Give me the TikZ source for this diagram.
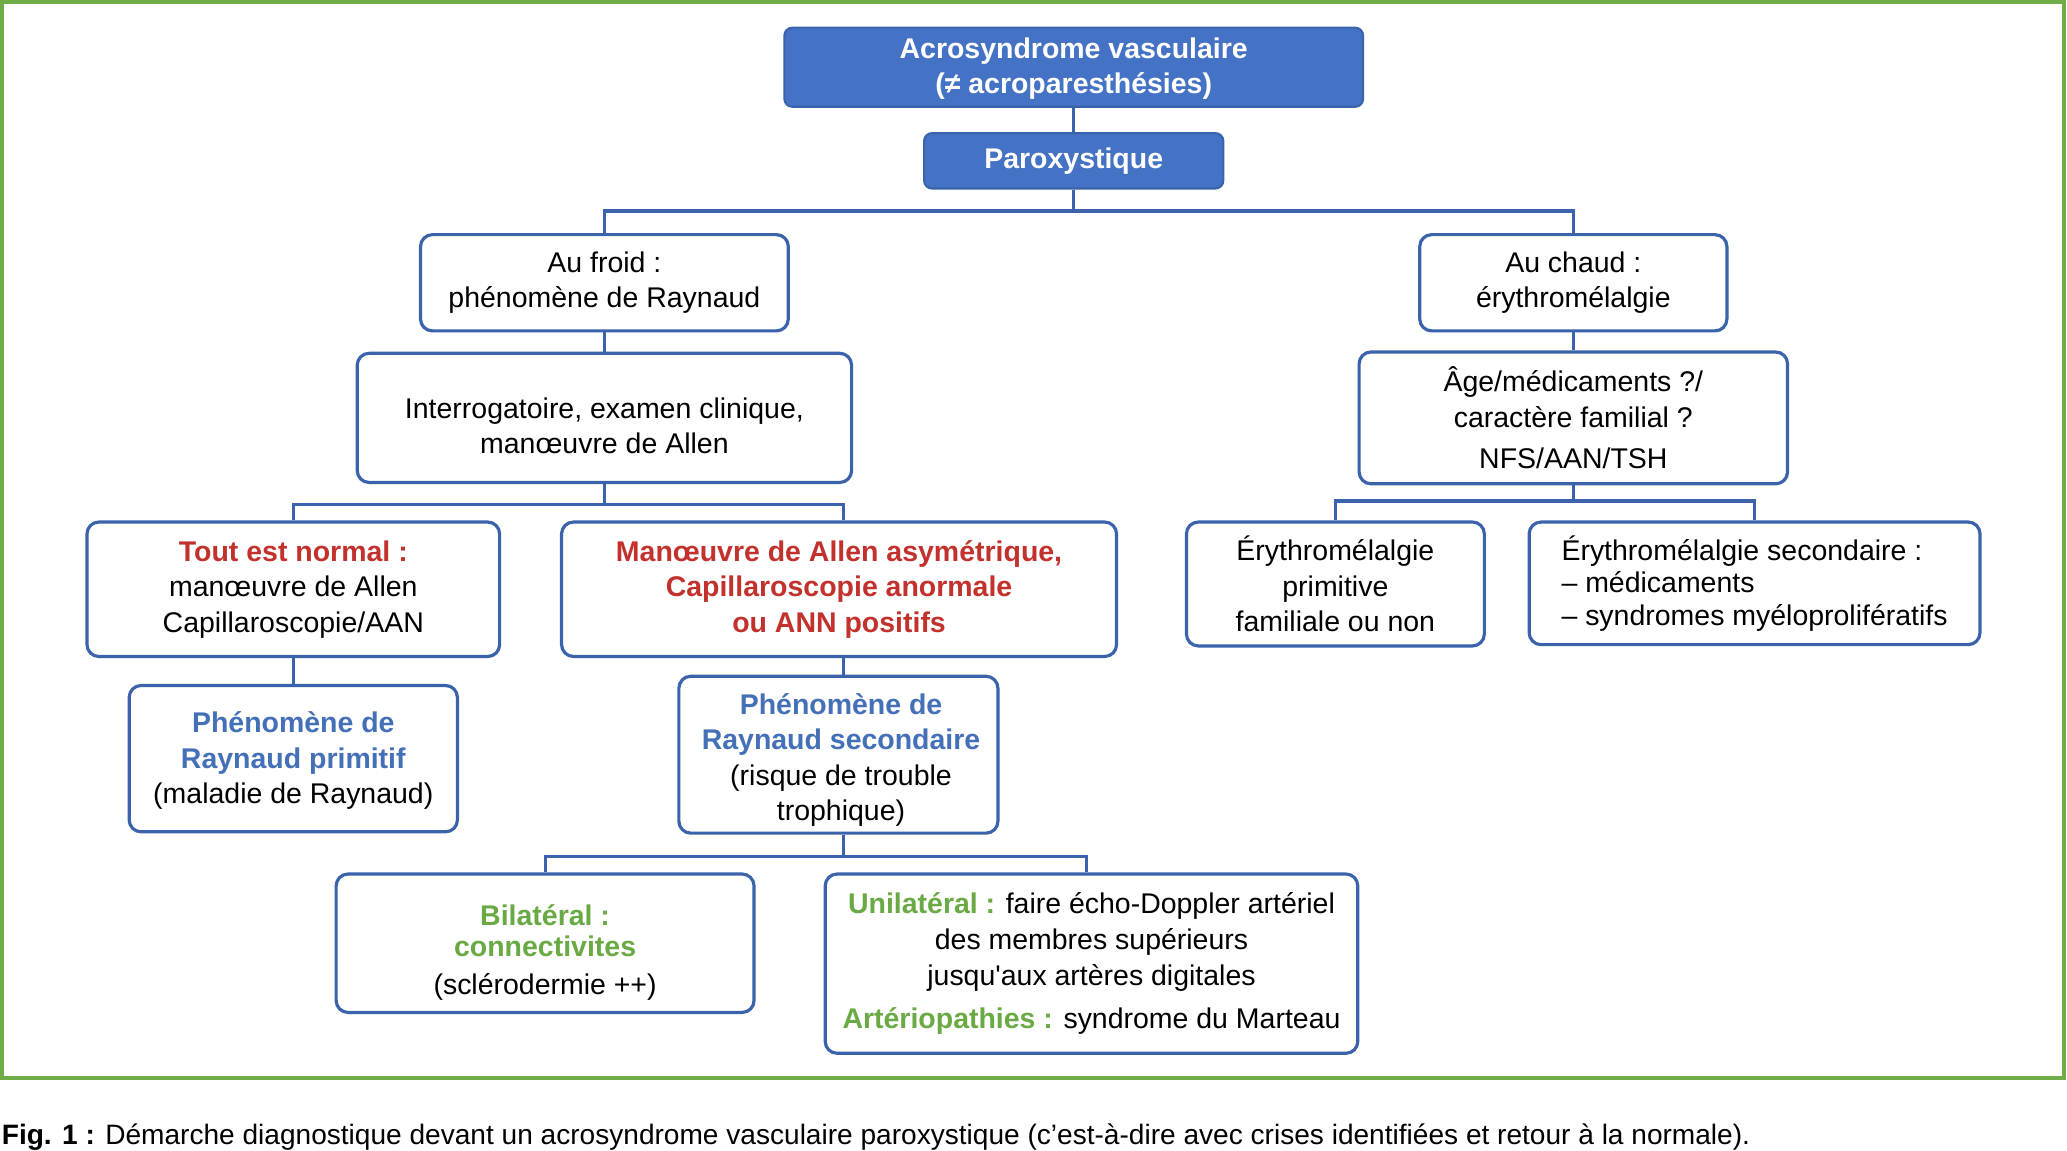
\documentclass[tikz,border=0pt]{standalone}
\usepackage{fontspec}
\setmainfont{Liberation Sans}
\newfontfamily\plainsans{Liberation Sans}
\definecolor{frameG}{HTML}{70AD47}
\definecolor{boxB}{HTML}{4472C4}
\definecolor{lineB}{HTML}{3A63AC}
\definecolor{txtR}{HTML}{C3312D}
\definecolor{txtB}{HTML}{4470B8}
\definecolor{txtG}{HTML}{6AAA45}
\newcommand{\bodyfont}{\fontsize{10.8}{13.5}\selectfont}
\begin{document}
\begin{tikzpicture}[x=0.5pt,y=-0.5pt,
  box/.style={draw=lineB, line width=1.2pt, rounded corners=4.5pt, fill=white,
    align=center, inner sep=0pt, font=\bodyfont, text=black},
  txt/.style={align=center, inner sep=0pt, font=\bodyfont, text=black},
  headbox/.style={draw=lineB, line width=0.8pt, rounded corners=3pt, fill=boxB,
    align=center, inner sep=0pt, font=\bodyfont\bfseries, text=white},
  conn/.style={draw=lineB, line width=1.2pt},
]
\useasboundingbox (0,0) rectangle (1568,873);
\draw[frameG, line width=1.5pt] (1.5,1.5) rectangle (1565.5,818);

% nodes
\node[headbox, minimum width=219.5pt, minimum height=30pt] (top) at (814.5,51)
  {\rule{0pt}{9pt}Acrosyndrome vasculaire\\(≠ acroparesthésies)};
\node[headbox, minimum width=113.5pt, minimum height=21pt] (parox) at (814.5,122)
  {Paroxystique};
\node[box, minimum width=139.5pt, minimum height=36.5pt] (froid) at (458.5,214.5)
  {Au froid :\\phénomène de Raynaud};
\node[box, minimum width=116.5pt, minimum height=36.5pt] (chaud) at (1193.5,214.5)
  {Au chaud :\\érythromélalgie};
\node[box, minimum width=187.5pt, minimum height=49pt] (interrog) at (458.5,317) {};
\node[txt] (interrogT) at (458.5,323)
  {Interrogatoire, examen clinique,\\manœuvre de Allen};
\node[box, minimum width=162.5pt, minimum height=50pt] (age) at (1193.5,317)
  {Âge/médicaments ?/\\caractère familial ?\\[2pt]NFS/AAN/TSH};
\node[box, minimum width=156.5pt, minimum height=51pt] (tout) at (222.5,447)
  {\textcolor{txtR}{\bfseries Tout est normal :}\\manœuvre de Allen\\Capillaroscopie/AAN};
\node[box, minimum width=210.5pt, minimum height=51pt, text=txtR, font=\bodyfont\bfseries] (allen) at (636.5,447)
  {Manœuvre de Allen asymétrique,\\Capillaroscopie anormale\\ou ANN positifs};
\node[box, minimum width=113pt, minimum height=47pt] (eprim) at (1013,443)
  {Érythromélalgie\\primitive\\familiale ou non};
\node[box, minimum width=171pt, minimum height=46.5pt, align=left,
  font=\fontsize{10.8}{12.3}\selectfont] (esec) at (1331,442.5)
  {Érythromélalgie secondaire :\\– médicaments\\– syndromes myéloprolifératifs};
\node[box, minimum width=124.5pt, minimum height=55.5pt] (rprim) at (222.5,575.5) {};
\node[txt] (rprimT) at (222.5,577)
  {\textcolor{txtB}{\bfseries Phénomène de}\\\textcolor{txtB}{\bfseries Raynaud primitif}\\(maladie de Raynaud)};
\node[box, minimum width=121pt, minimum height=59.5pt] (rsec) at (636,572.5) {};
\node[txt] (rsecT) at (638,576.5)
  {\textcolor{txtB}{\bfseries Phénomène de}\\\textcolor{txtB}{\bfseries Raynaud secondaire}\\(risque de trouble\\trophique)};
\node[box, minimum width=158.5pt, minimum height=52.5pt] (bilat) at (413.5,715.5) {};
\node[txt] (bilatT) at (413.5,722.5)
  {\textcolor{txtG}{\bfseries Bilatéral :}\\[-1.5pt]\textcolor{txtG}{\bfseries connectivites}\\[1pt](sclérodermie ++)};
\node[box, minimum width=202pt, minimum height=68pt] (unilat) at (828,731)
  {\textcolor{txtG}{\bfseries Unilatéral :} faire écho-Doppler artériel\\des membres supérieurs\\jusqu{\plainsans'}aux artères digitales\\[3pt]\textcolor{txtG}{\bfseries Artériopathies :} syndrome du Marteau};

\node[anchor=base west, inner sep=0pt, font=\fontsize{10.65}{13}\selectfont] (cap) at (1,868)
  {\textbf{Fig. 1 :} Démarche diagnostique devant un acrosyndrome vasculaire paroxystique (c’est-à-dire avec crises identifiées et retour à la normale).};

% junctions
\coordinate (j1) at (814.5,160);
\coordinate (j2) at (458.5,383);
\coordinate (j3) at (1193.5,380);
\coordinate (j4) at (640,650);
\coordinate (kA) at (640,0);
\coordinate (kU) at (824.5,0);

% connectors
\draw[conn] (top.south) -- (parox.north);
\draw[conn] (parox.south) -- (j1) -| (froid.north);
\draw[conn] (j1) -| (chaud.north);
\draw[conn] (froid.south) -- (interrog.north);
\draw[conn] (chaud.south) -- (age.north);
\draw[conn] (interrog.south) -- (j2) -| (tout.north);
\draw[conn] (j2) -| (allen.north -| kA);
\draw[conn] (age.south) -- (j3) -| (eprim.north);
\draw[conn] (j3) -| (esec.north);
\draw[conn] (tout.south) -- (rprim.north);
\draw[conn] (allen.south -| kA) -- (rsec.north -| kA);
\draw[conn] (rsec.south -| kA) -- (j4) -| (bilat.north);
\draw[conn] (j4) -| (unilat.north -| kU);
\end{tikzpicture}
\end{document}
